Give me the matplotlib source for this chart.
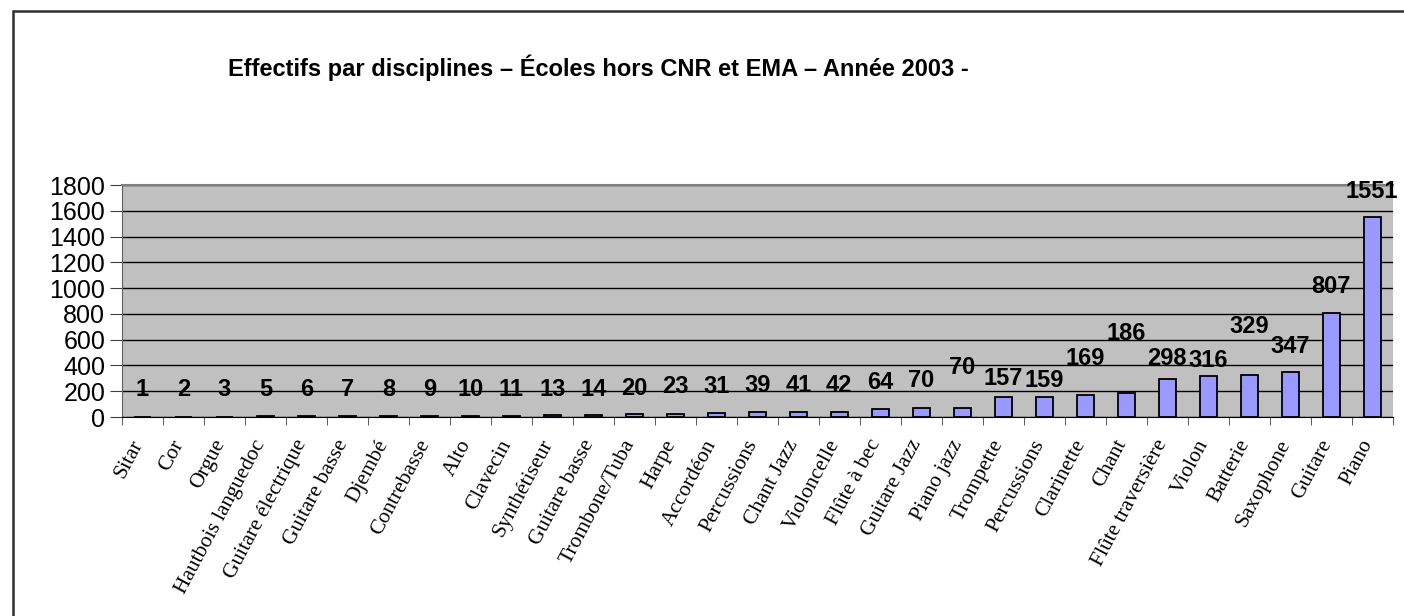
import matplotlib.pyplot as plt
from matplotlib.ticker import MultipleLocator, FixedLocator
from matplotlib.patches import Rectangle

# data
disciplines = ['Sitar', 'Cor', 'Orgue', 'Hautbois languedoc', 'Guitare électrique',
               'Guitare basse', 'Djembé', 'Contrebasse', 'Alto', 'Clavecin',
               'Synthétiseur', 'Guitare basse', 'Trombone/Tuba', 'Harpe', 'Accordéon',
               'Percussions', 'Chant Jazz', 'Violoncelle', 'Flûte à bec', 'Guitare Jazz',
               'Piano jazz', 'Trompette', 'Percussions', 'Clarinette', 'Chant',
               'Flûte traversière', 'Violon', 'Batterie', 'Saxophone', 'Guitare', 'Piano']
effectifs = [1, 2, 3, 5, 6, 7, 8, 9, 10, 11, 13, 14, 20, 23, 31, 39, 41, 42, 64, 70,
             70, 157, 159, 169, 186, 298, 316, 329, 347, 807, 1551]
# where the value labels sit in the original (they drift away from the bar tops)
label_y = [210, 210, 210, 210, 210, 210, 210, 210, 210, 210, 210, 210, 220, 235, 235,
           248, 248, 248, 265, 282, 385, 300, 285, 455, 650, 455, 442, 700, 545, 1010, 1748]
y_ticks = [0, 200, 400, 600, 800, 1000, 1200, 1400, 1600, 1800]

fig = plt.figure(figsize=(14.04, 6.16), dpi=100)
ax = fig.add_axes([0.0869, 0.323, 0.905, 0.3766])

x = list(range(len(disciplines)))
ax.bar(x, effectifs, width=0.41, color='#9999FF', edgecolor='black', linewidth=1.3, zorder=3)

for i, (v, ly) in enumerate(zip(effectifs, label_y)):
    ax.text(i, ly, str(v), ha='center', va='center', fontsize=17, fontweight='bold',
            family='Liberation Sans', zorder=4)

ax.set_facecolor('#C0C0C0')
ax.set_xlim(-0.5, len(disciplines) - 0.5)
ax.set_ylim(0, 1800)
ax.yaxis.set_major_locator(FixedLocator(y_ticks))
ax.grid(axis='y', color='black', linewidth=1, zorder=1)

# labels end a little left of the bar centre in the original (ticks are hidden)
ax.set_xticks([i - 0.3 for i in x])
ax.set_xticklabels(disciplines, rotation=62, ha='right', va='top', rotation_mode='anchor',
                   family='Liberation Serif', fontsize=15.5)
ax.xaxis.set_minor_locator(MultipleLocator(1, offset=0.5))
ax.tick_params(axis='x', which='major', length=0, pad=14)
ax.tick_params(axis='x', which='minor', length=6, color='#404040')
ax.tick_params(axis='y', length=9, color='#404040', labelsize=18, pad=3)
for lab in ax.get_yticklabels():
    lab.set_family('Liberation Sans')

ax.spines['right'].set_visible(False)
ax.spines['top'].set_color('#808080')
ax.spines['top'].set_linewidth(1.5)
ax.spines['left'].set_color('#606060')
ax.spines['bottom'].set_color('black')

fig.text(0.426, 0.89, 'Effectifs par disciplines – Écoles hors CNR et EMA – Année 2003 -',
         ha='center', va='center', fontsize=17, fontweight='bold', family='Liberation Sans')

# outer chart frame (runs off the right and bottom edges)
fig.add_artist(Rectangle((13 / 1404, -0.05), 1.2, 1.05 - 11 / 616,
                         transform=fig.transFigure, fill=False, edgecolor='#303030',
                         linewidth=1.8))

fig.savefig('out.png', dpi=100)
